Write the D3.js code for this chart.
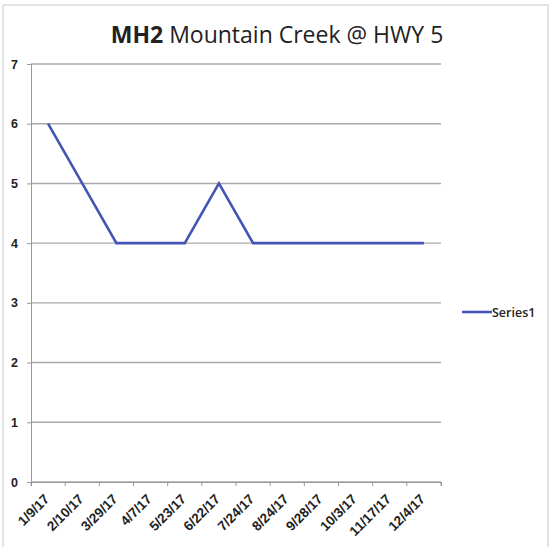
<!DOCTYPE html>
<html>
<head>
<meta charset="utf-8">
<script src="https://cdn.jsdelivr.net/npm/d3@7"></script>
<style>
  body { margin: 0; background: #fff; }
  svg { font-family: "Open Sans", "Liberation Sans", sans-serif; }
</style>
</head>
<body>
<div id="chart-area"></div>
<script>
const dates = ["1/9/17", "2/10/17", "3/29/17", "4/7/17", "5/23/17", "6/22/17",
  "7/24/17", "8/24/17", "9/28/17", "10/3/17", "11/17/17", "12/4/17"];
const series1 = [6, 5, 4, 4, 4, 5, 4, 4, 4, 4, 4, 4];
const yTicks = [0, 1, 2, 3, 4, 5, 6, 7];

const W = 551, H = 547;
const margin = { top: 64, right: 110, bottom: 65, left: 31 };
const width = W - margin.left - margin.right;
const height = H - margin.top - margin.bottom;

const svg = d3.select("#chart-area")
  .append("svg")
  .attr("width", W)
  .attr("height", H);

// chart frame
svg.append("rect")
  .attr("x", 3).attr("y", 5)
  .attr("width", 545).attr("height", 545)
  .attr("fill", "#fff")
  .attr("stroke", "#c8c8c8");

const g = svg.append("g")
  .attr("transform", `translate(${margin.left}, ${margin.top})`);

const x = d3.scaleBand()
  .domain(dates)
  .range([0, width]);

const y = d3.scaleLinear()
  .domain([0, 7])
  .range([height, 0]);

// gridlines
g.append("g")
  .selectAll("line")
  .data(yTicks)
  .enter()
  .append("line")
  .attr("x1", 0)
  .attr("x2", width)
  .attr("y1", d => y(d))
  .attr("y2", d => y(d))
  .attr("stroke", "#a8a8a8")
  .attr("stroke-width", 1.4);

const xAxis = d3.axisBottom(x).tickSize(4).tickFormat("");
const xg = g.append("g")
  .attr("transform", `translate(0, ${height})`)
  .call(xAxis);
xg.select(".domain").attr("stroke", "#999");
xg.selectAll(".tick line")
  .attr("transform", `translate(${-x.bandwidth() / 2}, 0)`)
  .attr("stroke", "#999");
xg.append("line")
  .attr("x1", width).attr("x2", width)
  .attr("y1", 0).attr("y2", 4)
  .attr("stroke", "#999");

// rotated date labels
xg.selectAll(".tick")
  .append("text")
  .attr("fill", "#222")
  .attr("font-size", "13.5px")
  .attr("font-weight", 600)
  .attr("text-anchor", "end")
  .attr("transform", "translate(2, 18) rotate(-45)")
  .text(d => d);

const yAxis = d3.axisLeft(y).tickValues(yTicks).tickSize(4).tickFormat(d3.format("d"));
const yg = g.append("g").call(yAxis);
yg.select(".domain").attr("stroke", "#999");
yg.selectAll(".tick line").attr("stroke", "#999");
yg.selectAll(".tick text")
  .attr("fill", "#222")
  .attr("font-size", "12.5px")
  .attr("font-weight", 600)
  .attr("x", -13);

const line = d3.line()
  .x((d, i) => x(dates[i]) + x.bandwidth() / 2)
  .y(d => y(d));

g.append("path")
  .datum(series1)
  .attr("fill", "none")
  .attr("stroke", "#4555b5")
  .attr("stroke-width", 2.6)
  .attr("stroke-linejoin", "miter")
  .attr("d", line);

// title
const title = svg.append("text")
  .attr("x", 277)
  .attr("y", 43)
  .attr("text-anchor", "middle")
  .attr("font-size", "23px")
  .attr("fill", "#222");
title.append("tspan").attr("font-weight", "bold").text("MH2");
title.append("tspan").text(" Mountain Creek @ HWY 5");

// legend
const legend = svg.append("g").attr("transform", "translate(462, 312)");
legend.append("line")
  .attr("x1", 0).attr("x2", 30)
  .attr("stroke", "#4555b5")
  .attr("stroke-width", 2.6);
legend.append("text")
  .attr("x", 30)
  .attr("y", 4.5)
  .attr("font-size", "12.5px")
  .attr("font-weight", 600)
  .attr("fill", "#222")
  .text("Series1");
</script>
</body>
</html>
